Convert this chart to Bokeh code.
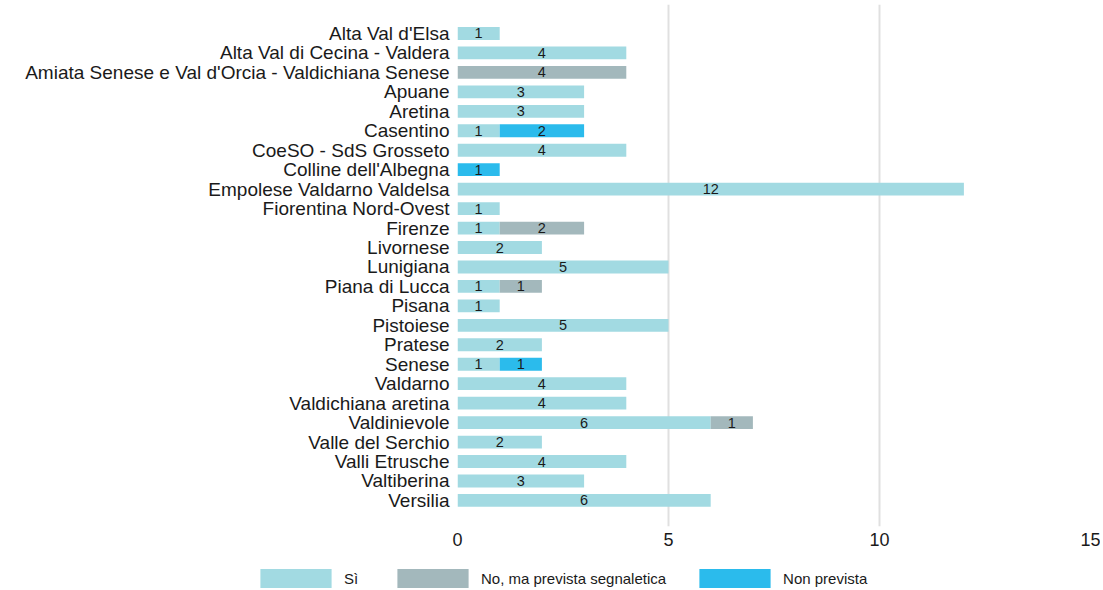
from bokeh.plotting import figure
from bokeh.models import ColumnDataSource, Range1d, FixedTicker, Legend, LegendItem
from bokeh.layouts import column
from bokeh.core.properties import value
from bokeh.embed import file_html
from bokeh.resources import INLINE

categories = ["Alta Val d'Elsa", "Alta Val di Cecina - Valdera",
              "Amiata Senese e Val d'Orcia - Valdichiana Senese", "Apuane", "Aretina",
              "Casentino", "CoeSO - SdS Grosseto", "Colline dell'Albegna",
              "Empolese Valdarno Valdelsa", "Fiorentina Nord-Ovest", "Firenze", "Livornese",
              "Lunigiana", "Piana di Lucca", "Pisana", "Pistoiese", "Pratese", "Senese",
              "Valdarno", "Valdichiana aretina", "Valdinievole", "Valle del Serchio",
              "Valli Etrusche", "Valtiberina", "Versilia"]
si = [1, 4, 0, 3, 3, 1, 4, 0, 12, 1, 1, 2, 5, 1, 1, 5, 2, 1, 4, 4, 6, 2, 4, 3, 6]
no_prevista = [0, 0, 4, 0, 0, 0, 0, 0, 0, 0, 2, 0, 0, 1, 0, 0, 0, 0, 0, 0, 1, 0, 0, 0, 0]
non_prevista = [0, 0, 0, 0, 0, 2, 0, 1, 0, 0, 0, 0, 0, 0, 0, 0, 0, 1, 0, 0, 0, 0, 0, 0, 0]
series_names = ["Sì", "No, ma prevista segnaletica", "Non prevista"]
series_keys = ["si", "no", "np"]
colors = ["#a2dae2", "#a3b8bc", "#2bbbec"]
x_ticks = [0, 5, 10, 15]

FONT = "Liberation Sans"
n = len(categories)
idx = list(range(n))

src = ColumnDataSource(dict(y=idx, si=si, no=no_prevista, np=non_prevista))

p = figure(width=1100, height=558, output_backend="svg", toolbar_location=None,
           x_range=Range1d(0, 15), y_range=Range1d(n - 1 + 1.34, -1.49),
           min_border_left=457, min_border_right=10, min_border_top=4, min_border_bottom=32)
p.outline_line_color = None

rs = p.hbar_stack(series_keys, y="y", height=0.66, color=colors, source=src, line_width=0)

# value labels at the centre of every non-empty segment
lx, ly, lt = [], [], []
for i in idx:
    left = 0
    for vals in (si, no_prevista, non_prevista):
        v = vals[i]
        if v > 0:
            lx.append(left + v / 2)
            ly.append(i)
            lt.append(str(v))
        left += v
p.text(x=lx, y=ly, text=lt, text_font=value(FONT), text_font_size="14.5px",
       text_color="#1a1a1a", text_align="center", text_baseline="middle")

# axes
p.xaxis.ticker = FixedTicker(ticks=x_ticks)
p.xaxis.axis_line_color = None
p.xaxis.major_tick_line_color = None
p.xaxis.minor_tick_line_color = None
p.xaxis.major_label_text_font = FONT
p.xaxis.major_label_text_font_size = "18px"
p.xaxis.major_label_text_color = "#1a1a1a"
p.xaxis.major_label_standoff = 0

p.yaxis.ticker = FixedTicker(ticks=idx)
p.yaxis.major_label_overrides = {i: c for i, c in enumerate(categories)}
p.yaxis.axis_line_color = None
p.yaxis.major_tick_line_color = None
p.yaxis.minor_tick_line_color = None
p.yaxis.major_label_text_font = FONT
p.yaxis.major_label_text_font_size = "19px"
p.yaxis.major_label_text_color = "#1a1a1a"
p.yaxis.major_label_standoff = 2

p.xgrid.ticker = FixedTicker(ticks=[0, 5, 10])
p.xgrid.grid_line_color = "#e0e0e0"
p.xgrid.grid_line_width = 2
p.ygrid.grid_line_color = None

# legend in a separate strip below the chart; its frame starts where the legend starts
lg = figure(width=1100, height=32, output_backend="svg", toolbar_location=None,
            x_range=Range1d(0, 1), y_range=Range1d(0, 1),
            min_border_left=251, min_border_right=0, min_border_top=0, min_border_bottom=0)
for fig in (p, lg):
    try:
        fig.frame_align = False
    except Exception:
        pass
lg.axis.visible = False
lg.grid.visible = False
lg.outline_line_color = None
# hidden proxy bars that only supply the legend swatches
lsrc = ColumnDataSource(dict(y=[idx[0]], si=[si[0]], no=[no_prevista[0]], np=[non_prevista[0]]))
proxies = lg.hbar_stack(series_keys, y="y", height=1, color=colors, source=lsrc, line_width=0)
for r in proxies:
    r.visible = False
legend = Legend(items=[LegendItem(label=series_names[k], renderers=[proxies[k]]) for k in range(3)],
                orientation="horizontal", location="bottom_left",
                glyph_width=89, glyph_height=24, label_standoff=4, spacing=24,
                padding=0, margin=0, border_line_color=None, background_fill_alpha=0,
                inactive_fill_alpha=0,
                label_text_font=FONT, label_text_font_size="15px", label_text_color="#1a1a1a")
lg.add_layout(legend, "center")

layout = column(p, lg, spacing=0)
open("out.html", "w").write(file_html(layout, INLINE))
